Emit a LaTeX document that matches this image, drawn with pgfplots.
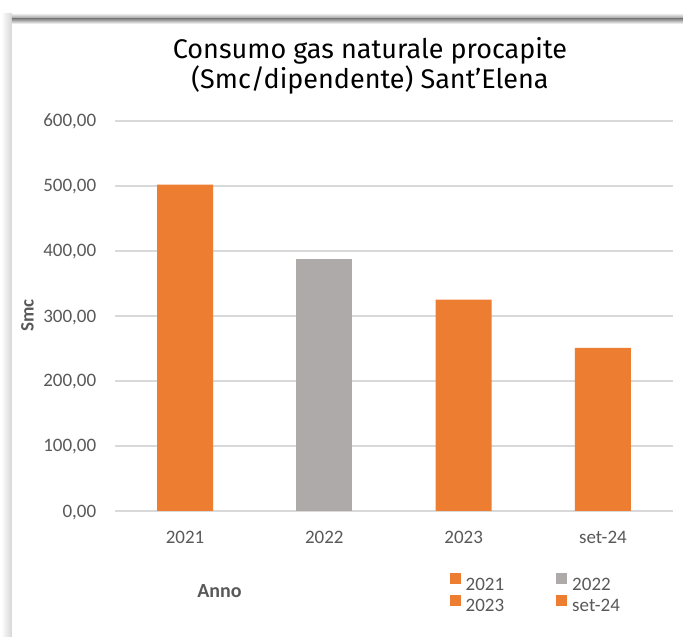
\documentclass[border=0pt]{standalone}
\usepackage{fontspec}
\setmainfont{Carlito}
\newfontfamily\titlefont{Fira Sans}
\usepackage{pgfplots}
\pgfplotsset{compat=1.18}
\definecolor{barorange}{HTML}{ED7D31}
\definecolor{bargray}{HTML}{AEAAAA}
\definecolor{txtgray}{HTML}{595959}
\definecolor{gridgray}{HTML}{D9D9D9}
\begin{document}
\begin{tikzpicture}
\begin{scope}[x=1pt,y=1pt,shift={(-115.4pt,-126pt)}]
\path[use as bounding box] (0,0) rectangle (683,637);
\fill[white] (0,0) rectangle (683,637);
\shade[left color=white, right color=black!16] (1,0) rectangle (12,623);
\shade[top color=black!8, bottom color=black!45] (12,623) rectangle (683,618);
\shade[top color=black!45, bottom color=white] (12,618) rectangle (683,613);
\node[font=\titlefont\fontsize{27}{33}\selectfont, text=black, anchor=base] at (370,578) {Consumo gas naturale procapite};
\node[font=\titlefont\fontsize{27}{33}\selectfont, text=black, anchor=base] at (370,548) {(Smc/dipendente) Sant’Elena};
\end{scope}
\begin{axis}[at={(0pt,0pt)}, anchor=south west, scale only axis,
  width=557.2pt, height=390pt,
  xmin=-0.5, xmax=3.5, ymin=0, ymax=600,
  axis line style={draw=none},
  major tick length=0pt,
  ytick={0,100,...,600},
  ymajorgrids, grid style={gridgray, line width=1.3pt},
  xtick={0,1,2,3}, xticklabels={2021,2022,2023,set-24},
  tick label style={text=txtgray, font=\fontsize{19}{22}\selectfont},
  yticklabel={\pgfmathprintnumber[fixed,fixed zerofill,precision=2,use comma,assume math mode=true]{\tick}},
  yticklabel style={anchor=base east, inner sep=0pt, xshift=-19pt, yshift=-6pt},
  xticklabel style={anchor=base, inner sep=0pt, yshift=-32pt},
  ylabel={Smc},
  ylabel style={at={(axis description cs:-0.158,0.501)}, anchor=center, font=\bfseries\fontsize{19}{22}\selectfont, text=txtgray},
  xlabel={Anno},
  xlabel style={at={(axis description cs:0.1868,-0.2046)}, anchor=center, font=\bfseries\fontsize{20}{22}\selectfont, text=txtgray},
  legend columns=2,
  legend cell align=left,
  legend image code/.code={\fill[#1, draw=none] (0pt,0.5pt) rectangle (11pt,11.5pt);},
  legend style={draw=none, fill=none, inner sep=0pt, outer sep=0pt,
    at={(axis description cs:0.6, -0.16)}, anchor=north west,
    row sep=3pt,
    nodes={inner sep=0pt, text=txtgray, font=\fontsize{19}{22}\selectfont},
    /tikz/every odd column/.append style={column sep=5pt},
    /tikz/every even column/.append style={column sep=52pt}},
]
\addplot[ybar, bar width=56pt, fill=barorange, draw=none, forget plot] coordinates {(0,502) (2,325) (3,251)};
\addplot[ybar, bar width=56pt, fill=bargray, draw=none, forget plot] coordinates {(1,388)};
\addlegendimage{fill=barorange, draw=none}
\addlegendentry{2021}
\addlegendimage{fill=bargray, draw=none}
\addlegendentry{2022}
\addlegendimage{fill=barorange, draw=none}
\addlegendentry{2023}
\addlegendimage{fill=barorange, draw=none}
\addlegendentry{set-24}
\end{axis}
\end{tikzpicture}
\end{document}
